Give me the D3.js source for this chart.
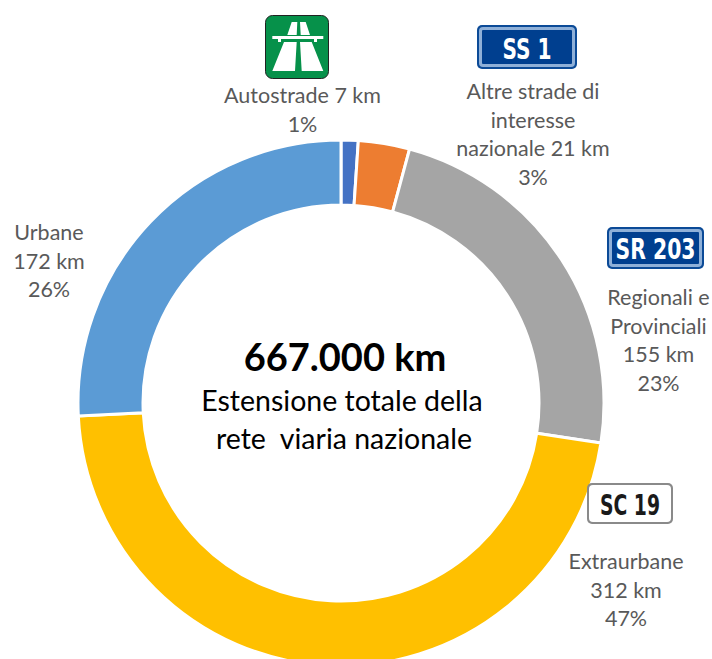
<!DOCTYPE html>
<html>
<head>
<meta charset="utf-8">
<script src="https://cdn.jsdelivr.net/npm/d3@7"></script>
<style>
  html, body { margin: 0; padding: 0; background: #fff; }
  text { font-family: Lato, "Open Sans", sans-serif; }
</style>
</head>
<body>
<div id="chart"></div>
<script>
var categories = ["Autostrade", "Altre strade", "Regionali e Provinciali", "Extraurbane", "Urbane"];
var values = [7, 21, 155, 312, 172];
var colors = ["#4472C4", "#ED7D31", "#A5A5A5", "#FFC000", "#5B9BD5"];

// label lines, one array per slice
var labelLines = [
  ["Autostrade 7 km", "1%"],
  ["Altre strade di", "interesse", "nazionale 21 km", "3%"],
  ["Regionali e", "Provinciali", "155 km", "23%"],
  ["Extraurbane", "312 km", "47%"],
  ["Urbane", "172 km", "26%"]
];
var labelX = [302.5, 533, 658.5, 626, 49];
var labelY = [103, 99, 305, 569, 240];

var width = 712, height = 659;
var cx = 341, cy = 403, outer = 263, inner = 198;

var svg = d3.select("#chart").append("svg")
  .attr("width", width)
  .attr("height", height)
  .style("display", "block");

//Donut
var pie = d3.pie().sort(null)(values);
var arc = d3.arc().innerRadius(inner).outerRadius(outer);

svg.append("g")
  .attr("transform", "translate(" + cx + "," + cy + ")")
  .selectAll("path")
  .data(pie)
  .enter().append("path")
  .attr("d", arc)
  .attr("fill", (d, i) => colors[i])
  .attr("stroke", "#fff")
  .attr("stroke-width", 3);

//Slice labels
labelLines.forEach((lines, i) => {
  var t = svg.append("text")
    .attr("text-anchor", "middle")
    .attr("fill", "#595959")
    .attr("font-size", 21.5);
  lines.forEach((line, j) => {
    t.append("tspan")
      .attr("x", labelX[i])
      .attr("y", labelY[i] + j * 28.5)
      .text(line);
  });
});

//Center text
svg.append("text")
  .attr("x", 345).attr("y", 371)
  .attr("text-anchor", "middle")
  .attr("font-size", 38)
  .attr("font-weight", 700)
  .attr("fill", "#000")
  .text("667.000 km");

svg.append("text")
  .attr("x", 342).attr("y", 411)
  .attr("text-anchor", "middle")
  .attr("font-size", 28.5)
  .attr("fill", "#000")
  .text("Estensione totale della");

svg.append("text")
  .attr("x", 344).attr("y", 449)
  .attr("text-anchor", "middle")
  .attr("font-size", 28.5)
  .attr("fill", "#000")
  .attr("xml:space", "preserve")
  .text("rete  viaria nazionale");

//Road signs
function plate(x, y, w, h, text, textW, textBase, blue) {
  var g = svg.append("g").attr("transform", "translate(" + x + "," + y + ")");
  g.append("rect").attr("width", w).attr("height", h).attr("rx", 5)
    .attr("fill", blue ? "#0B4A97" : "#8a8a8a");
  g.append("rect").attr("x", 2).attr("y", 2).attr("width", w - 4).attr("height", h - 4).attr("rx", 4)
    .attr("fill", blue ? "#8FB0D8" : "#fff");
  g.append("rect").attr("x", 5).attr("y", 5).attr("width", w - 10).attr("height", h - 10).attr("rx", 1)
    .attr("fill", blue ? "#003F8F" : "#fff");
  var label = g.append("text")
    .attr("text-anchor", "middle")
    .attr("font-size", 29)
    .attr("font-weight", 700)
    .attr("fill", blue ? "#fff" : "#1a1a1a")
    .style("font-family", "'DejaVu Sans Condensed', 'DejaVu Sans', sans-serif")
    .text(text);
  // squeeze the glyphs to the narrow plate lettering
  var sx = textW / label.node().getComputedTextLength();
  label.attr("transform", "translate(" + (w / 2) + "," + textBase + ") scale(" + sx + ",1)");
}
plate(477, 25, 100, 44, "SS 1", 49, 33.5, true);
plate(607, 227, 97, 42, "SR 203", 80, 32, true);
plate(587, 483, 86, 41, "SC 19", 60, 32, false);

//Motorway sign
var m = svg.append("g").attr("transform", "translate(265,15)");
m.append("rect").attr("x", 0.5).attr("y", 0.5).attr("width", 63).attr("height", 63).attr("rx", 7)
  .attr("fill", "#06914A").attr("stroke", "#222").attr("stroke-width", 1);
m.append("path").attr("fill", "#fff")
  .attr("d", "M26.7 7 L32.3 7 L31.7 20 L22.3 20 Z M35 7 L40.7 7 L45 20 L35.7 20 Z M19 27 L31.7 27 L30 56 L7.3 56 Z M35 27 L46.7 27 L58.3 56 L36.7 56 Z");
m.append("rect").attr("x", 7.3).attr("y", 21).attr("width", 51).attr("height", 3).attr("fill", "#fff");
m.append("rect").attr("x", 13).attr("y", 24).attr("width", 3).attr("height", 3).attr("fill", "#fff");
m.append("rect").attr("x", 49).attr("y", 24).attr("width", 3).attr("height", 3).attr("fill", "#fff");
</script>
</body>
</html>
